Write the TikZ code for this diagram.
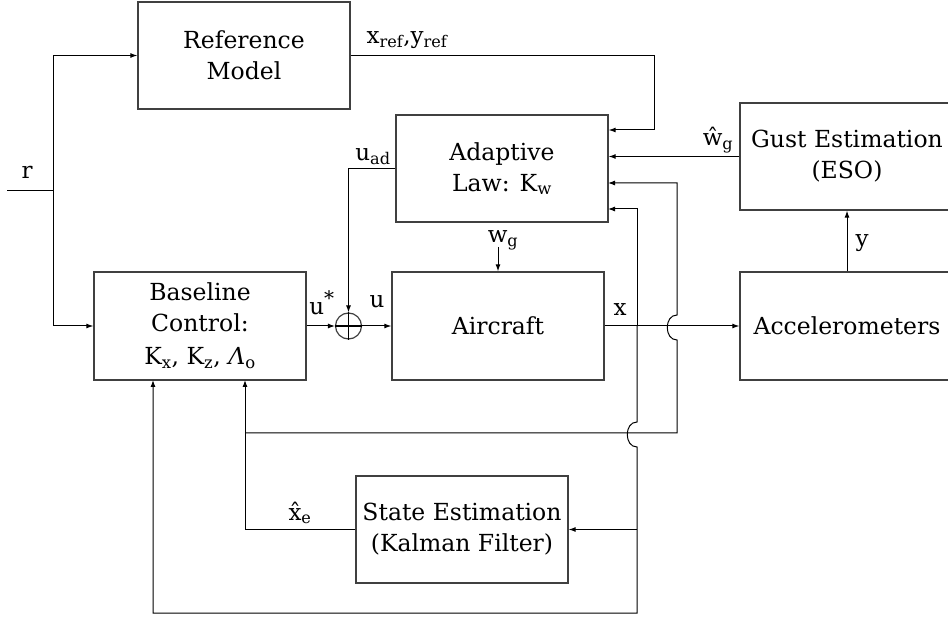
\documentclass[tikz,border=0pt]{standalone}
\usepackage{fontspec}
\setmainfont{DejaVu Serif}
\usetikzlibrary{arrows.meta,calc}
\begin{document}
\begin{tikzpicture}[x=1pt,y=-1pt,
  blk/.style={draw=black!75, line width=1.3pt, minimum width=212pt, minimum height=107pt,
    inner sep=0pt, align=center, font=\fontsize{23.5}{31}\selectfont},
  con/.style={line width=1pt},
  arr/.style={con, -{Latex[length=7pt,width=5pt]}},
  lbl/.style={inner sep=0pt, font=\fontsize{23}{28}\selectfont}]
\useasboundingbox (0,0) rectangle (948,617);
\clip (0,0) rectangle (948,617);
% blocks
\node[blk] (ref) at (244,55.5) {Reference\\Model};
\node[blk] (adapt) at (502,168.5) {Adaptive\\Law: K\textsubscript{w}};
\node[blk, minimum width=214pt] (gust) at (847,156.5) {Gust Estimation\\(ESO)};
\node[blk, minimum height=108pt] (base) at (200,326) {Baseline\\Control:\\[2pt]K\textsubscript{x}, K\textsubscript{z}, \textit{Λ}\textsubscript{o}};
\node[blk, minimum height=108pt] (air) at (498,326) {Aircraft};
\node[blk, minimum width=214pt, minimum height=108pt] (acc) at (847,326) {Accelerometers};
\node[blk] (state) at (462,529.5) {State Estimation\\(Kalman Filter)};
\node[circle, draw=black!75, line width=1.2pt, minimum size=26pt, inner sep=0pt] (sum) at (348.5,326) {};
\draw[line width=1.4pt] (sum.north) -- (sum.south);
\draw[line width=1.4pt] (sum.west) -- (sum.east);
% labels
\node[lbl] (lr) at (27,172) {r};
\node[lbl] (lref) at (407,40) {x\textsubscript{ref},y\textsubscript{ref}};
\node[lbl] (luad) at (373,157) {u\textsubscript{ad}};
\node[lbl] (lwh) at (718,140) {\^{w}\textsubscript{g}};
\node[lbl] (lwg) at (503,240) {w\textsubscript{g}};
\node[lbl] (lus) at (322,303) {u\textsuperscript{\fontsize{20}{20}\selectfont *}};
\node[lbl] (lu) at (377,302) {u};
\node[lbl] (lx) at (620,310) {x};
\node[lbl] (ly) at (862,243) {y};
\node[lbl] (lxe) at (300,513) {\^{x}\textsubscript{e}};
% connectors
\coordinate (rin) at (7,191);
\coordinate (rj) at (53,191);
\draw[con] (rin) -- (rj);
\draw[arr] (rj) |- (ref.west);
\draw[arr] (rj) |- (base.west);
\coordinate (c1) at (654,130);
\draw[arr] (ref.east) -| (c1) -- (c1 -| adapt.east);
\draw[arr] (gust.west) -- (gust.west -| adapt.east);
\draw[arr] (adapt.west) -| (sum.north);
\draw[arr] (base.east) -- (sum.west);
\draw[arr] (sum.east) -- (air.west);
\draw[arr] (air.east) -- (acc.west);
\draw[arr] (acc.north) -- (gust.south);
\coordinate (wgs) at (498,247);
\draw[arr] (wgs) -- (air.north);
\coordinate (j1) at (637,326);
\coordinate (a3) at (608,209);
\draw[arr] (j1) |- (a3);
\coordinate (b1) at (153,380);
\draw[arr] (j1) -- (637,422) .. controls (624,422) and (624,447) .. (637,447) -- (637,613) -| (b1);
\coordinate (s1) at (637,529.5);
\draw[arr] (s1) -- (state.east);
\coordinate (b2) at (245,380);
\draw[arr] (state.west) -| (b2);
\coordinate (jx) at (245,433);
\coordinate (a2) at (608,183);
\draw[arr] (jx) -- (677,433) -- (677,340) .. controls (664,340) and (664,315) .. (677,315) -- (677,183) -- (a2);
\end{tikzpicture}
\end{document}
